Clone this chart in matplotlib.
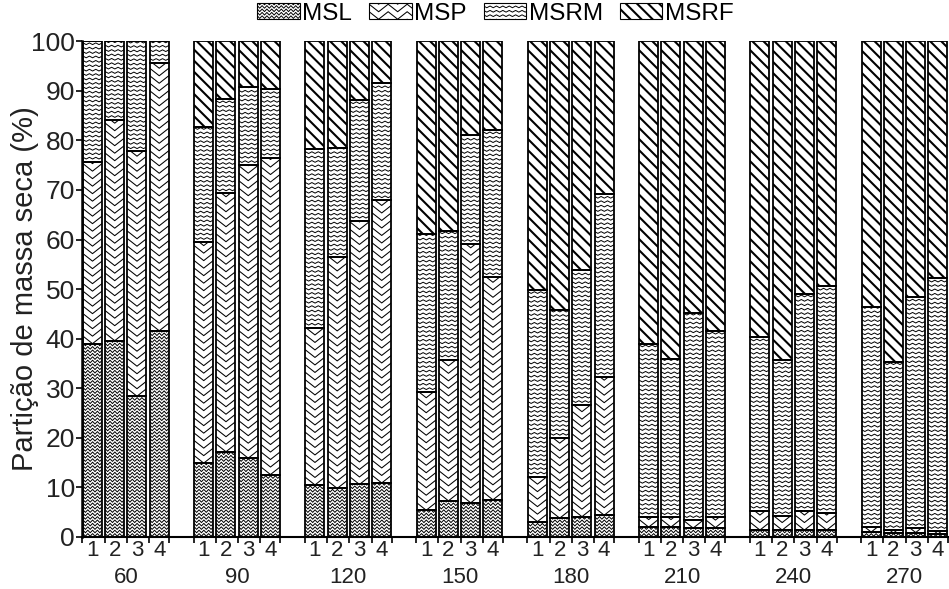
import numpy as np
import matplotlib
matplotlib.use('Agg')
import matplotlib.pyplot as plt
from matplotlib.collections import LineCollection
from matplotlib.patches import Rectangle
from matplotlib.legend_handler import HandlerBase

plt.rcParams['font.family'] = ['Liberation Sans', 'DejaVu Sans']
plt.rcParams['hatch.linewidth'] = 1.5

days = ['60', '90', '120', '150', '180', '210', '240', '270']
reps = ['1', '2', '3', '4']

# dry mass partition (%) per harvest day, replicates 1-4
msl = [39.0, 39.6, 28.4, 41.6,
       14.9, 17.2, 15.9, 12.6,
       10.5, 9.8, 10.6, 10.9,
       5.4, 7.3, 6.9, 7.5,
       3.1, 3.8, 4.1, 4.4,
       2.0, 2.0, 1.8, 1.9,
       1.4, 1.4, 1.4, 1.4,
       1.0, 0.8, 0.9, 0.6]
msp = [36.7, 44.5, 49.4, 54.0,
       44.6, 52.1, 59.1, 63.9,
       31.7, 46.6, 53.2, 57.0,
       23.8, 28.5, 52.2, 44.9,
       9.1, 16.2, 22.5, 27.9,
       2.1, 2.0, 1.6, 2.1,
       3.9, 2.8, 3.9, 3.5,
       1.1, 0.6, 0.9, 0.6]
msrm = [24.3, 15.9, 22.2, 4.4,
        23.1, 19.1, 15.8, 13.8,
        36.0, 22.0, 24.3, 23.7,
        32.0, 26.0, 21.9, 29.7,
        37.7, 25.8, 27.2, 36.9,
        34.8, 32.0, 41.8, 37.6,
        35.1, 31.5, 43.7, 45.7,
        44.3, 33.9, 46.6, 51.0]
msrf = [0.0, 0.0, 0.0, 0.0,
        17.4, 11.6, 9.2, 9.7,
        21.8, 21.6, 11.9, 8.4,
        38.8, 38.2, 19.0, 17.9,
        50.1, 54.2, 46.2, 30.8,
        61.1, 64.0, 54.8, 58.4,
        59.6, 64.3, 51.0, 49.4,
        53.6, 64.7, 51.6, 47.8]

labels = ['MSL', 'MSP', 'MSRM', 'MSRF']

# zigzag fill settings in pixels: half period, amplitude, row step, line width
zigzag = {
    'MSL': (2.4, 2.6, 3.4, 0.7),
    'MSP': (9.5, 7.5, 7.5, 0.75),
    'MSRM': (3.2, 1.7, 4.4, 0.7),
}
hatches = {'MSL': None, 'MSP': None, 'MSRM': None, 'MSRF': '\\\\\\'}
txt = '#222222'


def zigzag_rows(x0, y0, w, h, half, amp, step):
    xs = np.arange(x0 - half, x0 + w + 2 * half, half)
    ys = np.where(np.arange(len(xs)) % 2 == 0, 0.0, amp)
    rows = []
    for yr in np.arange(y0 - amp - step, y0 + h + step, step):
        rows.append(np.column_stack([xs, yr + ys]))
    return rows


class PatternHandler(HandlerBase):
    def create_artists(self, legend, orig_handle, xdescent, ydescent,
                       width, height, fontsize, trans):
        name = orig_handle.get_label()
        rect = Rectangle((-xdescent, -ydescent), width, height,
                         facecolor='white', edgecolor='black', lw=0.8,
                         hatch=hatches[name], transform=trans)
        out = [rect]
        if name in zigzag:
            half, amp, step, lw = zigzag[name]
            k = 0.72  # pixels -> points
            rows = zigzag_rows(-xdescent, -ydescent, width, height,
                               half * k, amp * k, step * k)
            lc = LineCollection(rows, colors='black', linewidths=lw,
                                transform=trans)
            lc.set_clip_path(rect)
            out.append(lc)
        return out


fig = plt.figure(figsize=(9.49, 5.89), dpi=100)
ax = fig.add_axes([0.0864, 0.0883, 0.9136, 0.8417])
xmin, xmax = -0.47, 38.5
ax.set_xlim(xmin, xmax)
ax.set_ylim(0, 100)

sx = ax.bbox.width / (xmax - xmin)
sy = ax.bbox.height / 100.0

x = np.array([g * 5 + i for g in range(len(days)) for i in range(len(reps))], dtype=float)
width = 0.85

bottom = np.zeros(len(x))
for name, vals in zip(labels, [msl, msp, msrm, msrf]):
    vals = np.array(vals)
    bars = ax.bar(x, vals, width, bottom=bottom, facecolor='none',
                  edgecolor='black', linewidth=1.3, hatch=hatches[name],
                  zorder=2)
    if name in zigzag:
        half, amp, step, lw = zigzag[name]
        for p in bars.patches:
            if p.get_height() <= 0:
                continue
            px0, py0 = p.get_x() * sx, p.get_y() * sy
            pw, ph = p.get_width() * sx, p.get_height() * sy
            rows = zigzag_rows(px0, py0, pw, ph, half, amp, step)
            rows = [r / [sx, sy] for r in rows]
            lc = LineCollection(rows, colors='black', linewidths=lw,
                                transform=ax.transData, zorder=1.5)
            ax.add_collection(lc, autolim=False)
            # clip after adding, otherwise the axes patch replaces it
            lc.set_clip_path(p)
    bottom += vals

ax.set_xlim(xmin, xmax)
ax.set_ylim(0, 100)

# tick labels 1-4 under each bar, marks at bar edges
ax.set_xticks(x)
ax.set_xticklabels(reps * len(days))
edges = [g * 5 + e for g in range(len(days)) for e in (-0.45, 0.55, 1.55, 2.55, 3.45)]
ax.set_xticks(edges, minor=True)
ax.tick_params(axis='x', which='major', length=0, pad=2.5, labelsize=16, colors=txt)
ax.tick_params(axis='x', which='minor', length=4, width=1.2, direction='out')
for g, d in enumerate(days):
    ax.annotate(d, xy=(g * 5 + 1.5, 0), xycoords=('data', 'axes fraction'),
                xytext=(0, -36.6), textcoords='offset points',
                ha='center', va='bottom', fontsize=16, color=txt)

ax.set_yticks(np.arange(0, 101, 10))
ax.tick_params(axis='y', length=4, width=1.2, pad=1, labelsize=19, colors=txt)
ax.tick_params(axis='both', color='black')
ax.set_ylabel('Partição de massa seca (%)', fontsize=21, color=txt, va='center')
ax.yaxis.set_label_coords(-0.066, 0.5)

ax.spines['top'].set_visible(False)
ax.spines['right'].set_visible(False)
ax.spines['left'].set_linewidth(1.8)
ax.spines['bottom'].set_linewidth(1.5)

handles = [Rectangle((0, 0), 1, 1, label=n) for n in labels]
fig.legend(handles=handles, labels=labels, loc='upper center',
           bbox_to_anchor=(0.522, 1.012), ncol=4, frameon=False, fontsize=17.5,
           handler_map={Rectangle: PatternHandler()},
           handlelength=1.75, handleheight=0.65, handletextpad=0.1,
           columnspacing=0.7, borderaxespad=0)

fig.savefig('out.png', dpi=100)
